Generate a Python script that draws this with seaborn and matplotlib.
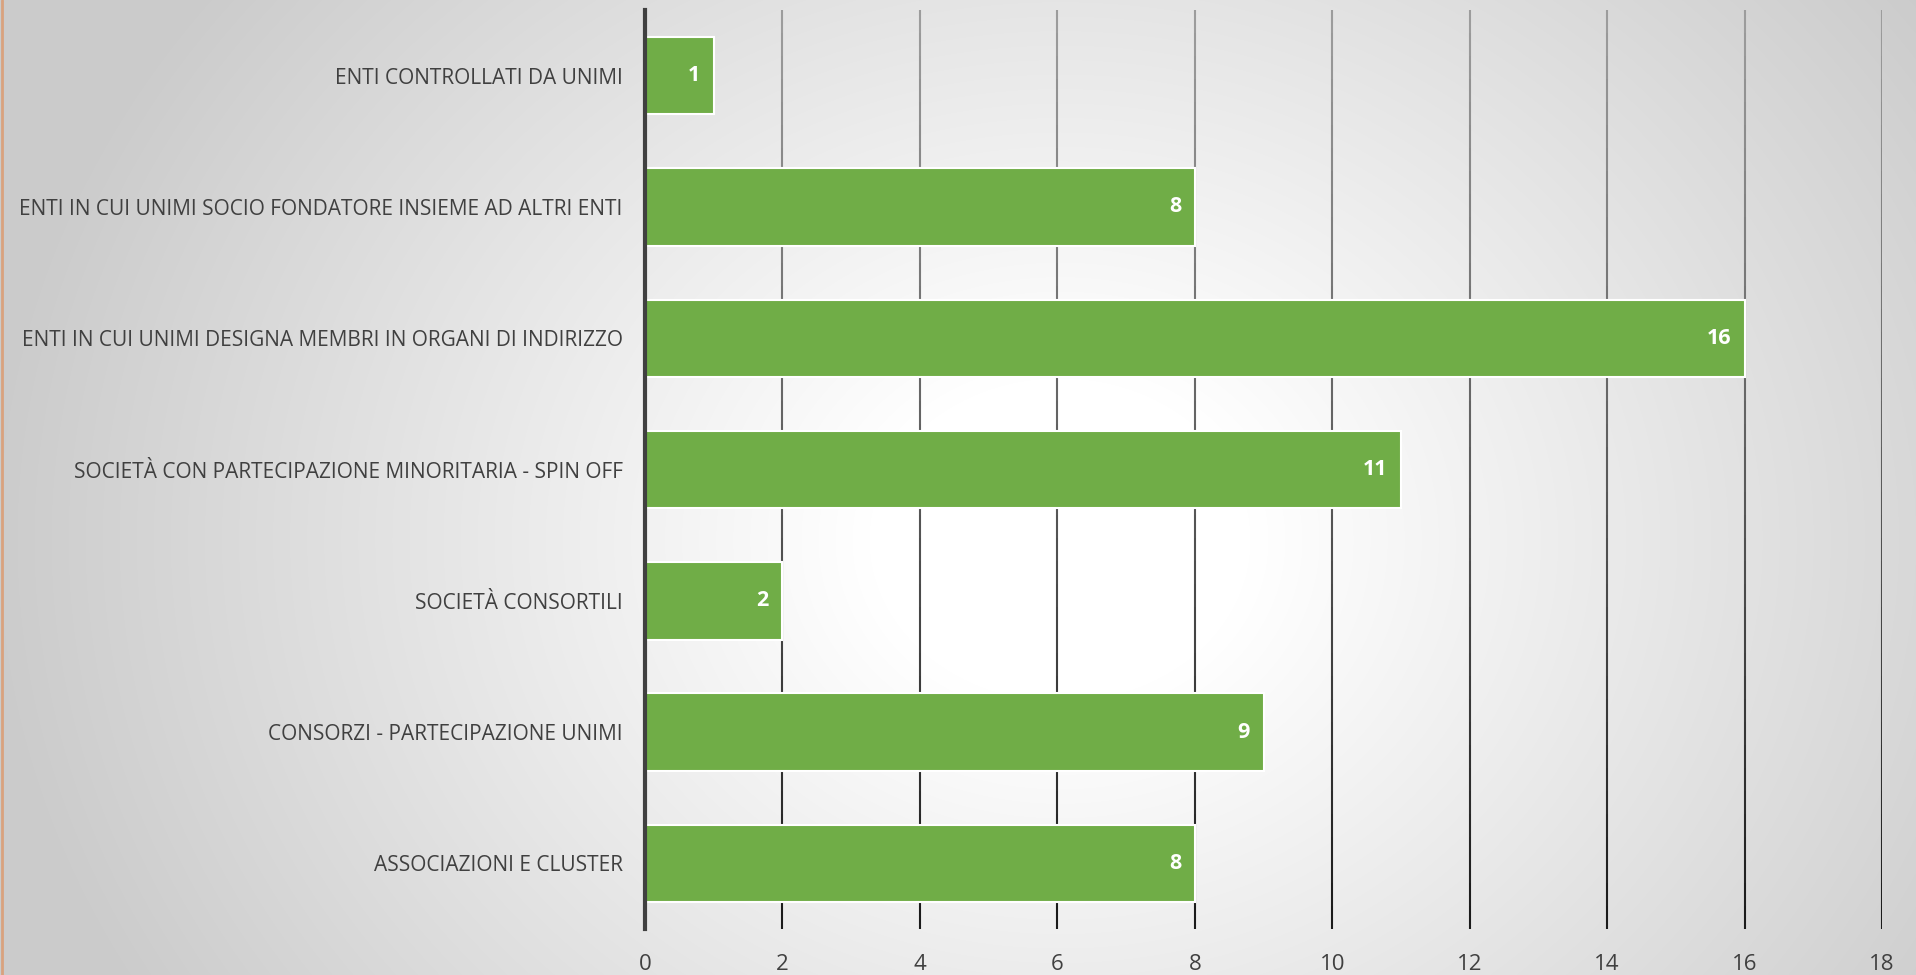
import numpy as np
import pandas as pd
import matplotlib
matplotlib.use("Agg")
import matplotlib.pyplot as plt
import seaborn as sns

categories = [
    "ENTI CONTROLLATI DA UNIMI",
    "ENTI IN CUI UNIMI SOCIO FONDATORE INSIEME AD ALTRI ENTI",
    "ENTI IN CUI UNIMI DESIGNA MEMBRI IN ORGANI DI INDIRIZZO",
    "SOCIETÀ CON PARTECIPAZIONE MINORITARIA - SPIN OFF",
    "SOCIETÀ CONSORTILI",
    "CONSORZI - PARTECIPAZIONE UNIMI",
    "ASSOCIAZIONI E CLUSTER",
]
values = [1, 8, 16, 11, 2, 9, 8]
x_ticks = [0, 2, 4, 6, 8, 10, 12, 14, 16, 18]

sns.set_theme(style="white")
plt.rcParams['font.family'] = ['Open Sans', 'DejaVu Sans']

fig = plt.figure(figsize=(19.16, 9.75), dpi=100)

# radial gradient background (white centre, grey edges)
bg = fig.add_axes([0, 0, 1, 1], zorder=-10)
H, W = 975, 1916
yy, xx = np.mgrid[0:H, 0:W]
cx, cy = 1060, 540
r = np.sqrt(((xx - cx) / 1060.0) ** 2 + ((yy - cy) / 900.0) ** 2)
f = np.clip((r - 0.18) / 0.82, 0, 1)
shade = 1.0 - 0.20 * f
img = np.dstack([shade, shade, shade])
bg.imshow(img, aspect='auto', extent=[0, 1, 0, 1], origin='upper')
bg.set_axis_off()
bg.plot([0.0008, 0.0008], [0, 1], color='#d9a27e', lw=2, transform=bg.transAxes)
bg.set_xlim(0, 1); bg.set_ylim(0, 1)

ax = fig.add_axes([0.3366, 0.0472, 0.6457, 0.9425])
ax.patch.set_alpha(0)

df = pd.DataFrame({"cat": categories, "val": values})
sns.barplot(data=df, x="val", y="cat", orient="h", color="#70AD47",
            saturation=1, edgecolor="white", linewidth=1.5, width=0.59,
            ax=ax, zorder=3)

ax.set_xlim(0, 18)
ylo, yhi = len(categories) - 0.5, -0.5
ax.set_ylim(ylo, yhi)
ax.set_xticks(x_ticks)
ax.set_xticklabels([str(t) for t in x_ticks], color='#404040', fontsize=16)
ax.tick_params(axis='x', length=0, pad=18)
ax.tick_params(axis='y', length=0, pad=16, labelsize=15, labelcolor='#404040')
ax.set_xlabel("")
ax.set_ylabel("")

# gradient gridlines: grey at top, near-black at bottom
nseg = 40
edges = np.linspace(yhi, ylo, nseg + 1)
top_c = np.array([0.62, 0.62, 0.62])
bot_c = np.array([0.10, 0.10, 0.10])
for t in x_ticks[1:]:
    for k in range(nseg):
        fr = (k + 0.5) / nseg
        c = top_c * (1 - fr) + bot_c * fr
        ax.vlines(t, edges[k], edges[k + 1], color=c, lw=1.5, zorder=1)

for s in ['top', 'right', 'bottom']:
    ax.spines[s].set_visible(False)
ax.spines['left'].set_color('#404040')
ax.spines['left'].set_linewidth(3)
ax.spines['left'].set_zorder(5)

for i, v in enumerate(values):
    ax.text(v - 0.2, i, str(v), ha='right', va='center', color='white',
            fontsize=15.5, fontweight='bold', zorder=6)

fig.savefig("out.png", dpi=100)
